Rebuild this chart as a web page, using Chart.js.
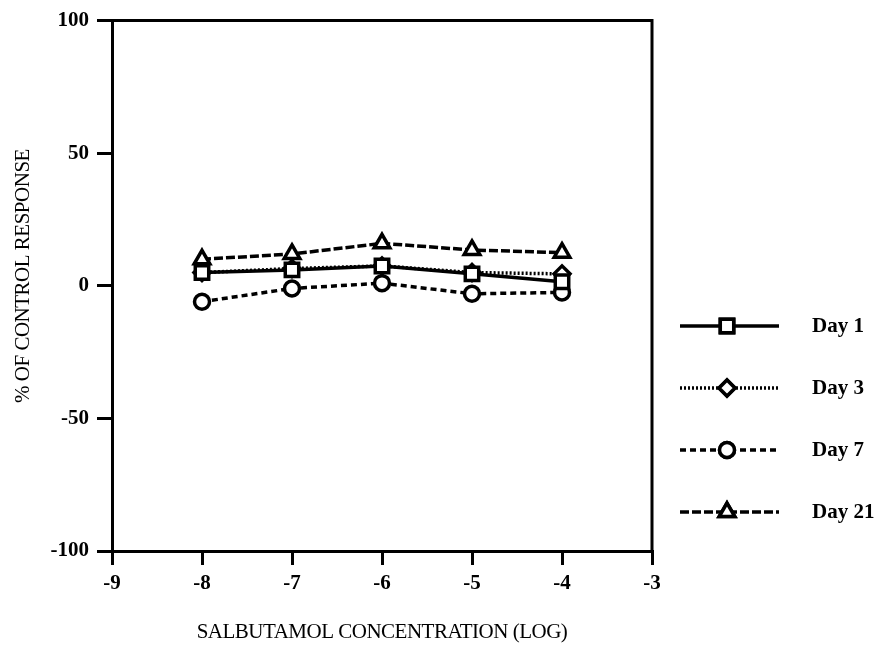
<!DOCTYPE html>
<html>
<head>
<meta charset="utf-8">
<script src="https://cdn.jsdelivr.net/npm/chart.js@4.4.1/dist/chart.umd.min.js"></script>
<style>
  html, body { margin: 0; padding: 0; background: #fff; }
  #wrap { width: 893px; height: 652px; position: relative; }
</style>
</head>
<body>
<div id="wrap"><canvas id="chart"></canvas></div>
<script>
// log concentration of salbutamol
const concentrations = [-8, -7, -6, -5, -4]
const seriesNames = ['Day 1', 'Day 3', 'Day 7', 'Day 21']
const day1 = [5, 6, 7.5, 4.5, 1.5]
const day3 = [5, 6.5, 7.5, 5, 4.5]
const day7 = [-6, -1, 1, -3, -2.5]
const day21 = [10, 12, 16, 13.5, 12.5]
const yTicks = [-100, -50, 0, 50, 100]
const xTicks = [-9, -8, -7, -6, -5, -4, -3]

const tickFont = { family: 'Liberation Serif', size: 21, weight: 'bold' }

const toPoints = function (values) {
  return values.map((v, i) => ({ x: concentrations[i], y: v }))
}

const styles = [
  { pointStyle: 'rect', radius: 9.5, dash: [] },
  { pointStyle: 'rectRot', radius: 8, dash: [2, 2] },
  { pointStyle: 'circle', radius: 7.5, dash: [6, 4] },
  { pointStyle: 'triangle', radius: 9, dash: [9, 3] }
]

const allValues = [day1, day3, day7, day21]

const datasets = allValues.map((vals, i) => ({
  label: seriesNames[i],
  data: toPoints(vals),
  borderColor: '#000',
  borderWidth: 3.5,
  borderDash: styles[i].dash,
  pointStyle: styles[i].pointStyle,
  pointRadius: styles[i].radius,
  pointBorderWidth: 3.5,
  pointBackgroundColor: '#fff',
  pointBorderColor: '#000',
  fill: false,
  tension: 0
}))

// box, axis titles and the line-sample legend
const extrasPlugin = {
  id: 'extras',
  afterDraw(chart) {
    const { ctx, chartArea } = chart
    ctx.save()
    ctx.strokeStyle = '#000'
    ctx.lineWidth = 3
    ctx.beginPath()
    ctx.moveTo(chartArea.left, chartArea.top)
    ctx.lineTo(chartArea.right, chartArea.top)
    ctx.lineTo(chartArea.right, chartArea.bottom)
    ctx.stroke()

    ctx.fillStyle = '#000'
    ctx.font = '21px "Liberation Serif"'
    ctx.letterSpacing = '-0.5px'
    ctx.textAlign = 'center'
    ctx.textBaseline = 'middle'
    ctx.fillText('SALBUTAMOL CONCENTRATION (LOG)', (chartArea.left + chartArea.right) / 2, 632)

    ctx.save()
    ctx.translate(23, 276)
    ctx.rotate(-Math.PI / 2)
    ctx.fillText('% OF CONTROL RESPONSE', 0, 0)
    ctx.restore()
    ctx.letterSpacing = '0px'

    // legend
    const rowY = [326, 388, 450, 512]
    ctx.font = 'bold 21px "Liberation Serif"'
    ctx.textAlign = 'left'
    chart.data.datasets.forEach((ds, i) => {
      const y = rowY[i]
      ctx.setLineDash(ds.borderDash)
      ctx.lineWidth = 3.5
      ctx.beginPath()
      ctx.moveTo(680, y)
      ctx.lineTo(779, y)
      ctx.stroke()
      ctx.setLineDash([])
      ctx.fillStyle = '#fff'
      Chart.helpers.drawPoint(ctx, {
        pointStyle: ds.pointStyle,
        radius: ds.pointRadius,
        borderWidth: 3.5,
        rotation: 0
      }, 727, y)
      ctx.fill()
      ctx.stroke()
      ctx.fillStyle = '#000'
      ctx.fillText(ds.label, 812, y + 1)
    })
    ctx.restore()
  }
}

const ctx = document.getElementById('chart').getContext('2d')

new Chart(ctx, {
  type: 'line',
  data: { datasets: datasets },
  options: {
    responsive: true,
    maintainAspectRatio: false,
    animation: false,
    layout: { padding: { left: 0, right: 241, top: 16, bottom: 0 } },
    plugins: {
      legend: { display: false },
      tooltip: { enabled: false }
    },
    scales: {
      x: {
        type: 'linear',
        min: -9,
        max: -3,
        afterFit: s => { s.height = 101 },
        afterBuildTicks: s => { s.ticks = xTicks.map(v => ({ value: v })) },
        grid: { drawOnChartArea: false, drawTicks: true, tickLength: 14, color: '#000', lineWidth: 3 },
        border: { display: true, color: '#000', width: 3 },
        ticks: { color: '#000', font: tickFont, padding: 6, maxRotation: 0 }
      },
      y: {
        min: -100,
        max: 100,
        afterFit: s => { s.width = 112 },
        afterBuildTicks: s => { s.ticks = yTicks.map(v => ({ value: v })) },
        grid: { drawOnChartArea: false, drawTicks: true, tickLength: 15, color: '#000', lineWidth: 3 },
        border: { display: true, color: '#000', width: 3 },
        ticks: { color: '#000', font: tickFont, padding: 8 }
      }
    }
  },
  plugins: [extrasPlugin]
});
</script>
</body>
</html>
